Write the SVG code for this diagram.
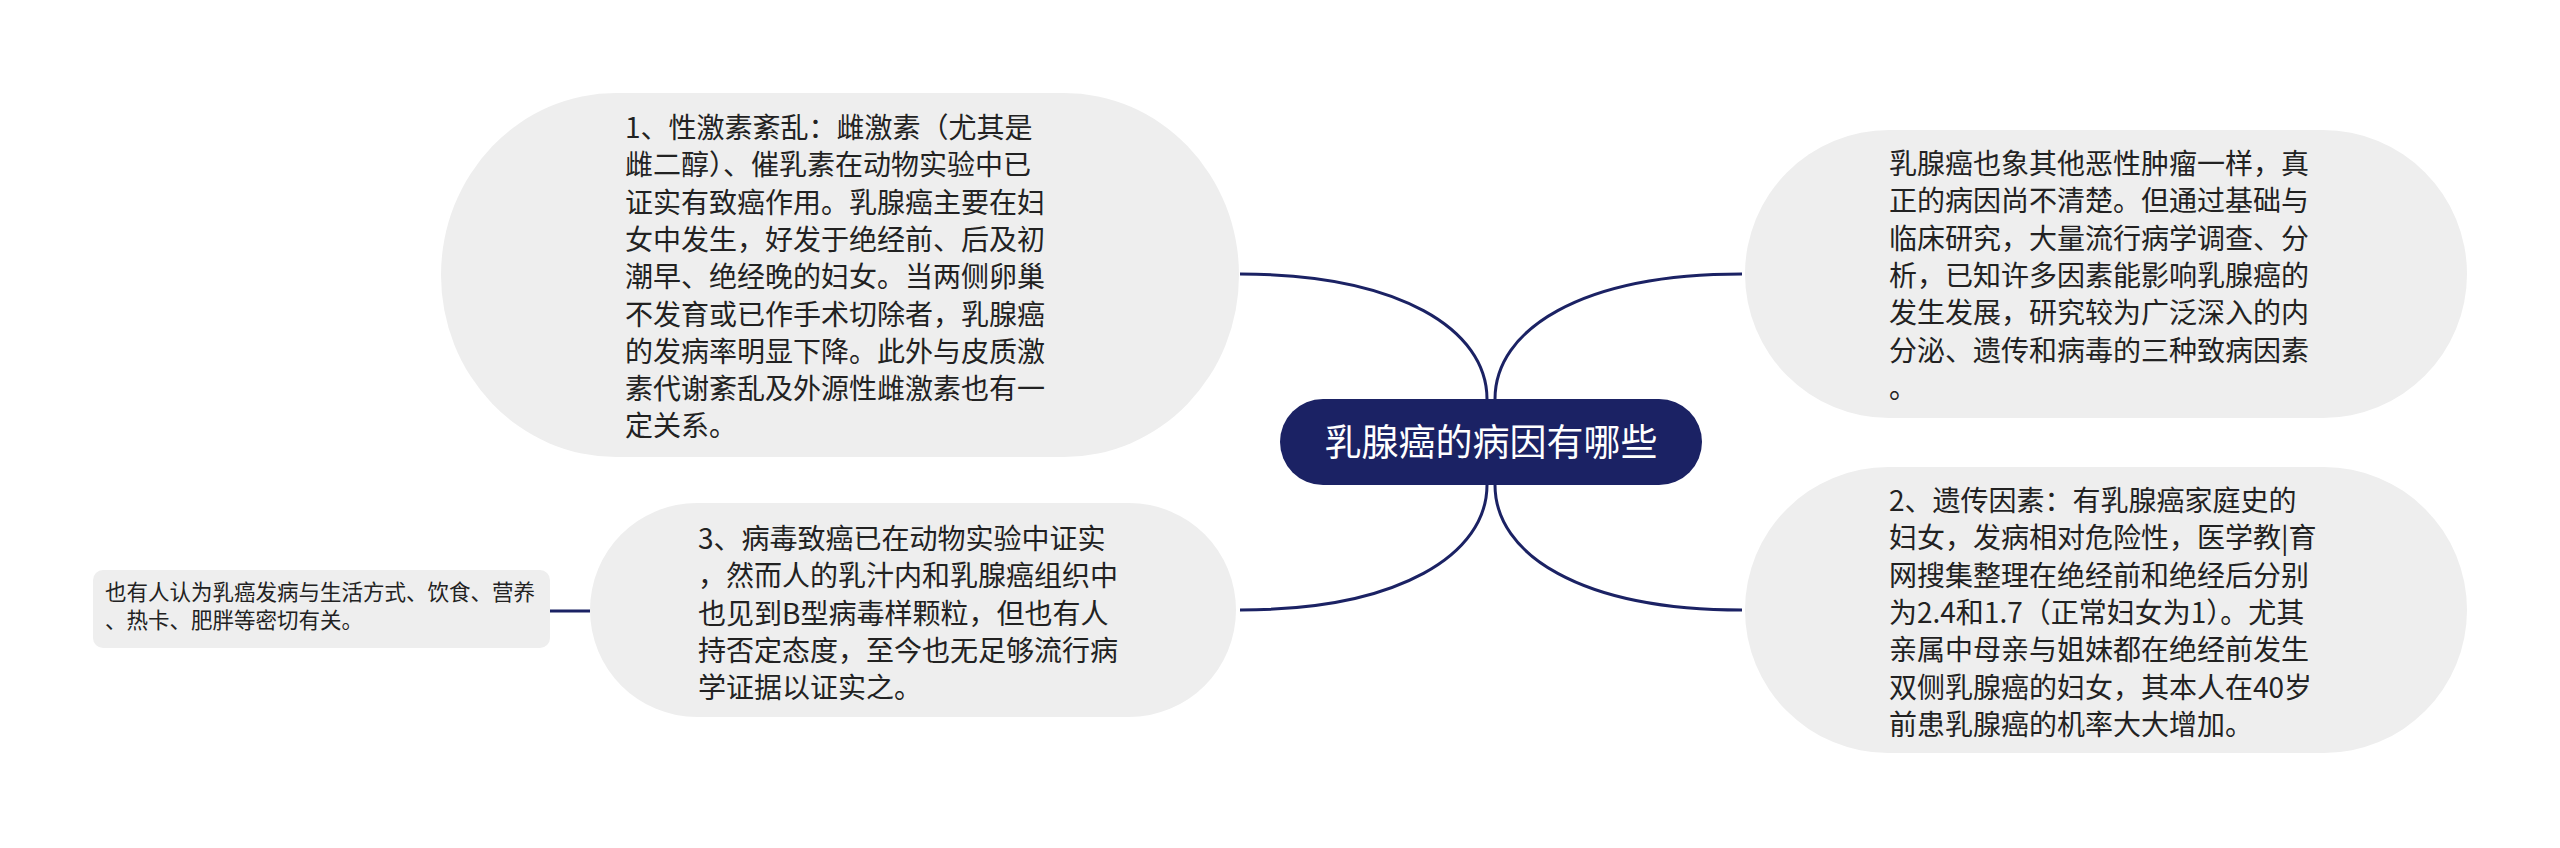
<svg xmlns="http://www.w3.org/2000/svg" width="2560" height="848" viewBox="0 0 2560 848">
<style>
.node{fill:#eeeeee;}
.t{font-family:"Noto Sans CJK SC","Noto Sans",sans-serif;font-size:28px;fill:#222222;}
.ts{font-family:"Noto Sans CJK SC","Noto Sans",sans-serif;font-size:21.5px;fill:#222222;}
.tc{font-family:"Noto Sans CJK SC","Noto Sans",sans-serif;font-size:37px;fill:#ffffff;}
.edge{fill:none;stroke:#1b2264;stroke-width:3;}
</style>
<rect width="2560" height="848" fill="#ffffff"/>
<g id="connectors">
<path class="edge" d="M1487,399 C1487,330 1400,274 1240,274"/>
<path class="edge" d="M1495,399 C1495,330 1580,274 1742,274"/>
<path class="edge" d="M1487,485 C1487,554 1400,610 1240,610"/>
<path class="edge" d="M1495,485 C1495,554 1580,610 1742,610"/>
<path class="edge" d="M590,611 L550,611"/>
</g>
<g id="center">
<rect x="1280" y="399" width="422" height="86" rx="43" fill="#1b2264"/>
<text class="tc" x="1491" y="456" text-anchor="middle">乳腺癌的病因有哪些</text>
</g>
<g id="node1">
<rect class="node" x="441" y="93" width="798" height="364" rx="175" ry="182"/>
<text class="t">
<tspan x="625" y="138">1、性激素紊乱：雌激素（尤其是</tspan>
<tspan x="625" dy="37.3">雌二醇）、催乳素在动物实验中已</tspan>
<tspan x="625" dy="37.3">证实有致癌作用。乳腺癌主要在妇</tspan>
<tspan x="625" dy="37.3">女中发生，好发于绝经前、后及初</tspan>
<tspan x="625" dy="37.3">潮早、绝经晚的妇女。当两侧卵巢</tspan>
<tspan x="625" dy="37.3">不发育或已作手术切除者，乳腺癌</tspan>
<tspan x="625" dy="37.3">的发病率明显下降。此外与皮质激</tspan>
<tspan x="625" dy="37.3">素代谢紊乱及外源性雌激素也有一</tspan>
<tspan x="625" dy="37.3">定关系。</tspan>
</text>
</g>
<g id="node3">
<rect class="node" x="590" y="503" width="646" height="214" rx="107"/>
<text class="t">
<tspan x="698" y="549">3、病毒致癌已在动物实验中证实</tspan>
<tspan x="698" dy="37.3">，然而人的乳汁内和乳腺癌组织中</tspan>
<tspan x="698" dy="37.3">也见到B型病毒样颗粒，但也有人</tspan>
<tspan x="698" dy="37.3">持否定态度，至今也无足够流行病</tspan>
<tspan x="698" dy="37.3">学证据以证实之。</tspan>
</text>
</g>
<g id="node4">
<rect class="node" x="93" y="570" width="457" height="78" rx="10"/>
<text class="ts">
<tspan x="105" y="600">也有人认为乳癌发病与生活方式、饮食、营养</tspan>
<tspan x="105" dy="28">、热卡、肥胖等密切有关。</tspan>
</text>
</g>
<g id="node2">
<rect class="node" x="1745" y="130" width="722" height="288" rx="144"/>
<text class="t">
<tspan x="1889" y="174">乳腺癌也象其他恶性肿瘤一样，真</tspan>
<tspan x="1889" dy="37.3">正的病因尚不清楚。但通过基础与</tspan>
<tspan x="1889" dy="37.3">临床研究，大量流行病学调查、分</tspan>
<tspan x="1889" dy="37.3">析，已知许多因素能影响乳腺癌的</tspan>
<tspan x="1889" dy="37.3">发生发展，研究较为广泛深入的内</tspan>
<tspan x="1889" dy="37.3">分泌、遗传和病毒的三种致病因素</tspan>
<tspan x="1889" dy="37.3">。</tspan>
</text>
</g>
<g id="node5">
<rect class="node" x="1745" y="467" width="722" height="286" rx="143"/>
<text class="t">
<tspan x="1889" y="511">2、遗传因素：有乳腺癌家庭史的</tspan>
<tspan x="1889" dy="37.3">妇女，发病相对危险性，医学教|育</tspan>
<tspan x="1889" dy="37.3">网搜集整理在绝经前和绝经后分别</tspan>
<tspan x="1889" dy="37.3">为2.4和1.7（正常妇女为1）。尤其</tspan>
<tspan x="1889" dy="37.3">亲属中母亲与姐妹都在绝经前发生</tspan>
<tspan x="1889" dy="37.3">双侧乳腺癌的妇女，其本人在40岁</tspan>
<tspan x="1889" dy="37.3">前患乳腺癌的机率大大增加。</tspan>
</text>
</g>
</svg>
